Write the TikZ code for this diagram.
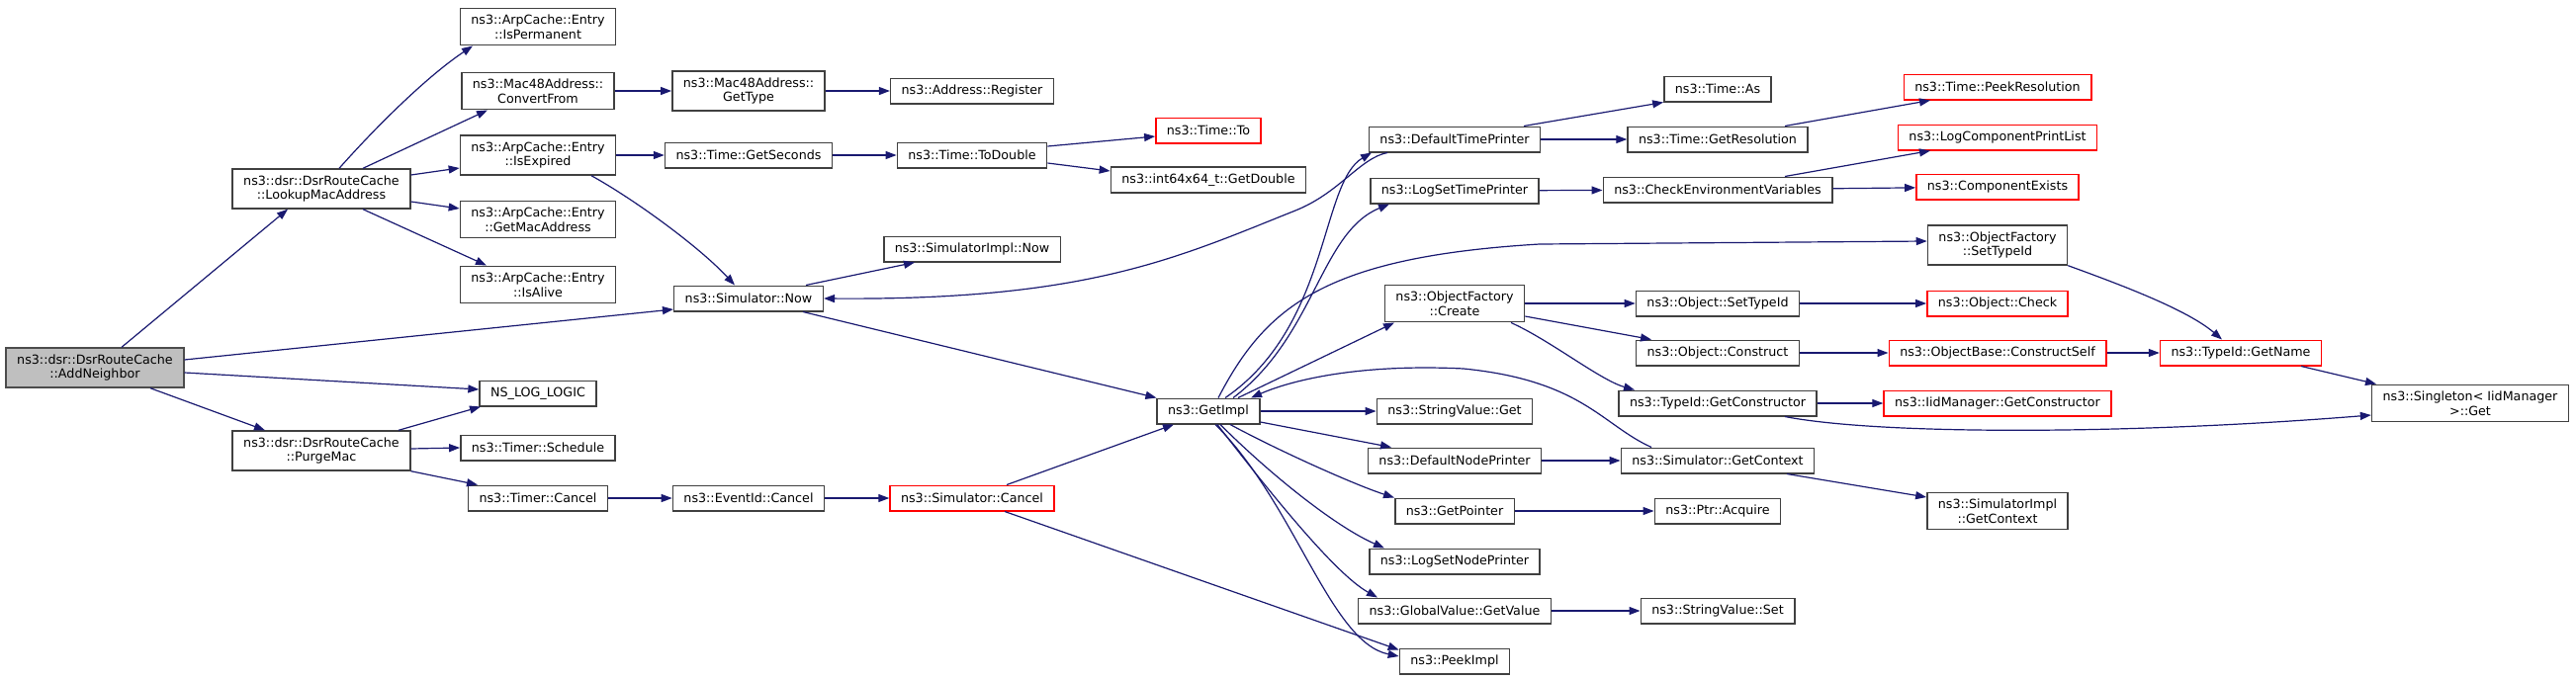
\documentclass[tikz,border=0pt]{standalone}
\usepackage{fontspec}
\setmainfont{DejaVu Sans}
\usetikzlibrary{arrows.meta}
\definecolor{edgeblue}{HTML}{191970}
\definecolor{boxgray}{HTML}{404040}
\tikzstyle{block} = [rectangle, draw=boxgray, line width=1.5pt, fill=white,
    align=center, inner xsep=11pt, inner ysep=6.5pt, minimum height=25.5pt,
    font=\fontsize{12.7}{14.6}\selectfont]
\tikzstyle{redblock} = [block, draw=red]
\tikzstyle{root} = [block, fill=black!25, draw=black!70]
\tikzstyle{line} = [draw=edgeblue, line width=1.2pt,
    -{Triangle[length=11pt,width=8pt]}]

\begin{document}
\begin{tikzpicture}[x=1pt, y=-1pt]
    \useasboundingbox (0,0) rectangle (2605,688);

    % Place callers
    \node [root] (root) at (96,372) {ns3::dsr::DsrRouteCache\\::AddNeighbor};
    \node [block] (lookup) at (325,191) {ns3::dsr::DsrRouteCache\\::LookupMacAddress};
    \node [block] (purge) at (325,456) {ns3::dsr::DsrRouteCache\\::PurgeMac};

    % Place second column
    \node [block] (isperm) at (544,27) {ns3::ArpCache::Entry\\::IsPermanent};
    \node [block] (convfrom) at (544,92) {ns3::Mac48Address::\\ConvertFrom};
    \node [block] (isexp) at (544,157) {ns3::ArpCache::Entry\\::IsExpired};
    \node [block] (getmac) at (544,222) {ns3::ArpCache::Entry\\::GetMacAddress};
    \node [block] (isalive) at (544,288) {ns3::ArpCache::Entry\\::IsAlive};
    \node [block] (loglogic) at (544,398) {NS\_LOG\_LOGIC};
    \node [block] (schedule) at (544,453) {ns3::Timer::Schedule};
    \node [block] (tcancel) at (544,504) {ns3::Timer::Cancel};

    % Place third column
    \node [block] (gettype) at (757,92) {ns3::Mac48Address::\\GetType};
    \node [block] (getsec) at (757,157) {ns3::Time::GetSeconds};
    \node [block] (now) at (757,302) {ns3::Simulator::Now};
    \node [block] (ecancel) at (757,504) {ns3::EventId::Cancel};

    % Place fourth column
    \node [block] (register) at (983,92) {ns3::Address::Register};
    \node [block] (todouble) at (983,157) {ns3::Time::ToDouble};
    \node [block] (implnow) at (983,252) {ns3::SimulatorImpl::Now};
    \node [redblock] (scancel) at (983,504) {ns3::Simulator::Cancel};

    % Place fifth column
    \node [redblock] (timeto) at (1222,132) {ns3::Time::To};
    \node [block] (getdouble) at (1222,182) {ns3::int64x64\_t::GetDouble};
    \node [block] (getimpl) at (1222,416) {ns3::GetImpl};

    % Place sixth column
    \node [block] (dtp) at (1471,141) {ns3::DefaultTimePrinter};
    \node [block] (lstp) at (1471,193) {ns3::LogSetTimePrinter};
    \node [block] (create) at (1471,307) {ns3::ObjectFactory\\::Create};
    \node [block] (svget) at (1471,416) {ns3::StringValue::Get};
    \node [block] (dnp) at (1471,466) {ns3::DefaultNodePrinter};
    \node [block] (getptr) at (1471,517) {ns3::GetPointer};
    \node [block] (lsnp) at (1471,568) {ns3::LogSetNodePrinter};
    \node [block] (gvget) at (1471,618) {ns3::GlobalValue::GetValue};
    \node [block] (peek) at (1471,669) {ns3::PeekImpl};

    % Place seventh column
    \node [block] (timeas) at (1737,90) {ns3::Time::As};
    \node [block] (getres) at (1737,141) {ns3::Time::GetResolution};
    \node [block] (checkenv) at (1737,192) {ns3::CheckEnvironmentVariables};
    \node [block] (osettid) at (1737,307) {ns3::Object::SetTypeId};
    \node [block] (construct) at (1737,357) {ns3::Object::Construct};
    \node [block] (getctor) at (1737,408) {ns3::TypeId::GetConstructor};
    \node [block] (getctx) at (1737,466) {ns3::Simulator::GetContext};
    \node [block] (acquire) at (1737,517) {ns3::Ptr::Acquire};
    \node [block] (svset) at (1737,618) {ns3::StringValue::Set};

    % Place eighth column
    \node [redblock] (peekres) at (2020,88) {ns3::Time::PeekResolution};
    \node [redblock] (printlist) at (2020,139) {ns3::LogComponentPrintList};
    \node [redblock] (compexists) at (2020,189) {ns3::ComponentExists};
    \node [block] (ofsettid) at (2020,248) {ns3::ObjectFactory\\::SetTypeId};
    \node [redblock] (check) at (2020,307) {ns3::Object::Check};
    \node [redblock] (cself) at (2020,357) {ns3::ObjectBase::ConstructSelf};
    \node [redblock] (iidctor) at (2020,408) {ns3::IidManager::GetConstructor};
    \node [block] (implctx) at (2020,517) {ns3::SimulatorImpl\\::GetContext};

    % Place last columns
    \node [redblock] (getname) at (2266,357) {ns3::TypeId::GetName};
    \node [block] (singleton) at (2498,408) {ns3::Singleton< IidManager\\>::Get};

    % Draw edges of the callers
    \path [line] ([xshift=27pt]root.north) -- ([xshift=-34pt]lookup.south);
    \path [line] ([yshift=8pt]root.east) -- ([yshift=-11pt]now.west);
    \path [line] ([yshift=-5pt]root.east) -- ([yshift=4pt]loglogic.west);
    \path [line] ([xshift=56pt]root.south) -- ([xshift=-57pt]purge.north);
    \path [line] ([xshift=18pt]lookup.north) .. controls +(40,-45) and +(-45,30) .. ([xshift=-66pt]isperm.south);
    \path [line] ([xshift=42pt]lookup.north) -- ([xshift=-51pt]convfrom.south);
    \path [line] ([yshift=14pt]lookup.east) -- ([yshift=-13pt]isexp.west);
    \path [line] ([yshift=-13pt]lookup.east) -- ([yshift=11pt]getmac.west);
    \path [line] ([xshift=42pt]lookup.south) -- ([xshift=-52pt]isalive.north);
    \path [line] ([xshift=78pt]purge.north) -- ([xshift=-58pt]loglogic.south);
    \path [line] ([yshift=2pt]purge.east) -- (schedule.west);
    \path [line] (purge.south east) -- ([xshift=-61pt]tcancel.north);

    % Draw edges of the middle columns
    \path [line] (convfrom) -- (gettype);
    \path [line] (gettype) -- (register);
    \path [line] (isexp) -- (getsec);
    \path [line] ([xshift=54pt]isexp.south) .. controls +(45,25) and +(-35,-38) .. ([xshift=-14pt]now.north);
    \path [line] (getsec) -- (todouble);
    \path [line] ([yshift=9pt]todouble.east) -- ([yshift=-6pt]timeto.west);
    \path [line] ([yshift=-8pt]todouble.east) -- ([yshift=9pt]getdouble.west);
    \path [line] ([xshift=58pt]now.north) -- ([xshift=-58pt]implnow.south);
    \path [line] ([xshift=55pt]now.south) -- (getimpl.north west);
    \path [line] (tcancel) -- (ecancel);
    \path [line] (ecancel) -- (scancel);
    \path [line] ([xshift=35pt]scancel.north) -- ([xshift=-35pt]getimpl.south);
    \path [line] ([xshift=33pt]scancel.south) -- ([yshift=-2pt]peek.north west);
    \path [line] ([xshift=-68pt]dtp.south) .. controls (1375,160) and (1355,195) .. (1310,213)
        .. controls (1190,261) and (1100,304) .. (now.east);

    % Draw edges of GetImpl
    \path [line] ([xshift=17pt]getimpl.north) .. controls (1345,330) and (1335,185) .. ([xshift=-84pt]dtp.south);
    \path [line] ([xshift=25pt]getimpl.north) .. controls (1330,340) and (1335,235) .. ([xshift=-66pt]lstp.south);
    \path [line] ([xshift=30pt]getimpl.north) -- ([xshift=-61pt]create.south);
    \path [line] ([xshift=10pt]getimpl.north) .. controls (1280,310) and (1340,260) .. (1557,247)
        -- ([yshift=4pt]ofsettid.west);
    \path [line] (getimpl) -- (svget);
    \path [line] ([yshift=-11pt]getimpl.east) -- ([xshift=-64pt]dnp.north);
    \path [line] ([xshift=22pt]getimpl.south) .. controls +(50,27) and +(-40,-13) .. (getptr.north west);
    \path [line] ([xshift=12pt]getimpl.south) .. controls +(50,50) and +(-50,-22) .. ([xshift=-71pt]lsnp.north);
    \path [line] ([xshift=9pt]getimpl.south) .. controls +(45,58) and +(-45,-25) .. ([xshift=-78pt]gvget.north);
    \path [line] ([xshift=7pt]getimpl.south) .. controls (1310,510) and (1345,650) .. ([yshift=5pt]peek.west);

    % Draw edges of the right columns
    \path [line] ([xshift=70pt]dtp.north) -- (timeas.south west);
    \path [line] (dtp) -- (getres);
    \path [line] ([xshift=68pt]getres.north) -- ([xshift=-68pt]peekres.south);
    \path [line] (lstp) -- (checkenv);
    \path [line] ([xshift=68pt]checkenv.north) -- ([xshift=-68pt]printlist.south);
    \path [line] (checkenv) -- (compexists);
    \path [line] (create) -- (osettid);
    \path [line] ([yshift=-13pt]create.east) -- ([xshift=-67pt]construct.north);
    \path [line] ([xshift=57pt]create.south) .. controls +(40,18) and +(-35,-10) .. ([xshift=-84pt]getctor.north);
    \path [line] (osettid) -- (check);
    \path [line] (construct) -- (cself);
    \path [line] (cself) -- (getname);
    \path [line] (ofsettid.south east) .. controls +(55,20) and +(-35,-30) .. ([xshift=-19pt]getname.north);
    \path [line] ([xshift=61pt]getname.south) -- ([xshift=-95pt]singleton.north);
    \path [line] (getctor) -- (iidctor);
    \path [line] ([xshift=68pt]getctor.south) .. controls (1900,440) and (2150,440) .. ([yshift=-12pt]singleton.west);
    \path [line] (dnp) -- (getctx);
    \path [line] ([xshift=70pt]getctx.south) -- ([yshift=14pt]implctx.west);
    \path [line] ([xshift=-67pt]getctx.north) .. controls (1620,430) and (1600,385) .. (1480,373)
        .. controls (1380,368) and (1310,383) .. ([xshift=43pt]getimpl.north);
    \path [line] (getptr) -- (acquire);
    \path [line] (gvget) -- (svset);

\end{tikzpicture}
\end{document}
